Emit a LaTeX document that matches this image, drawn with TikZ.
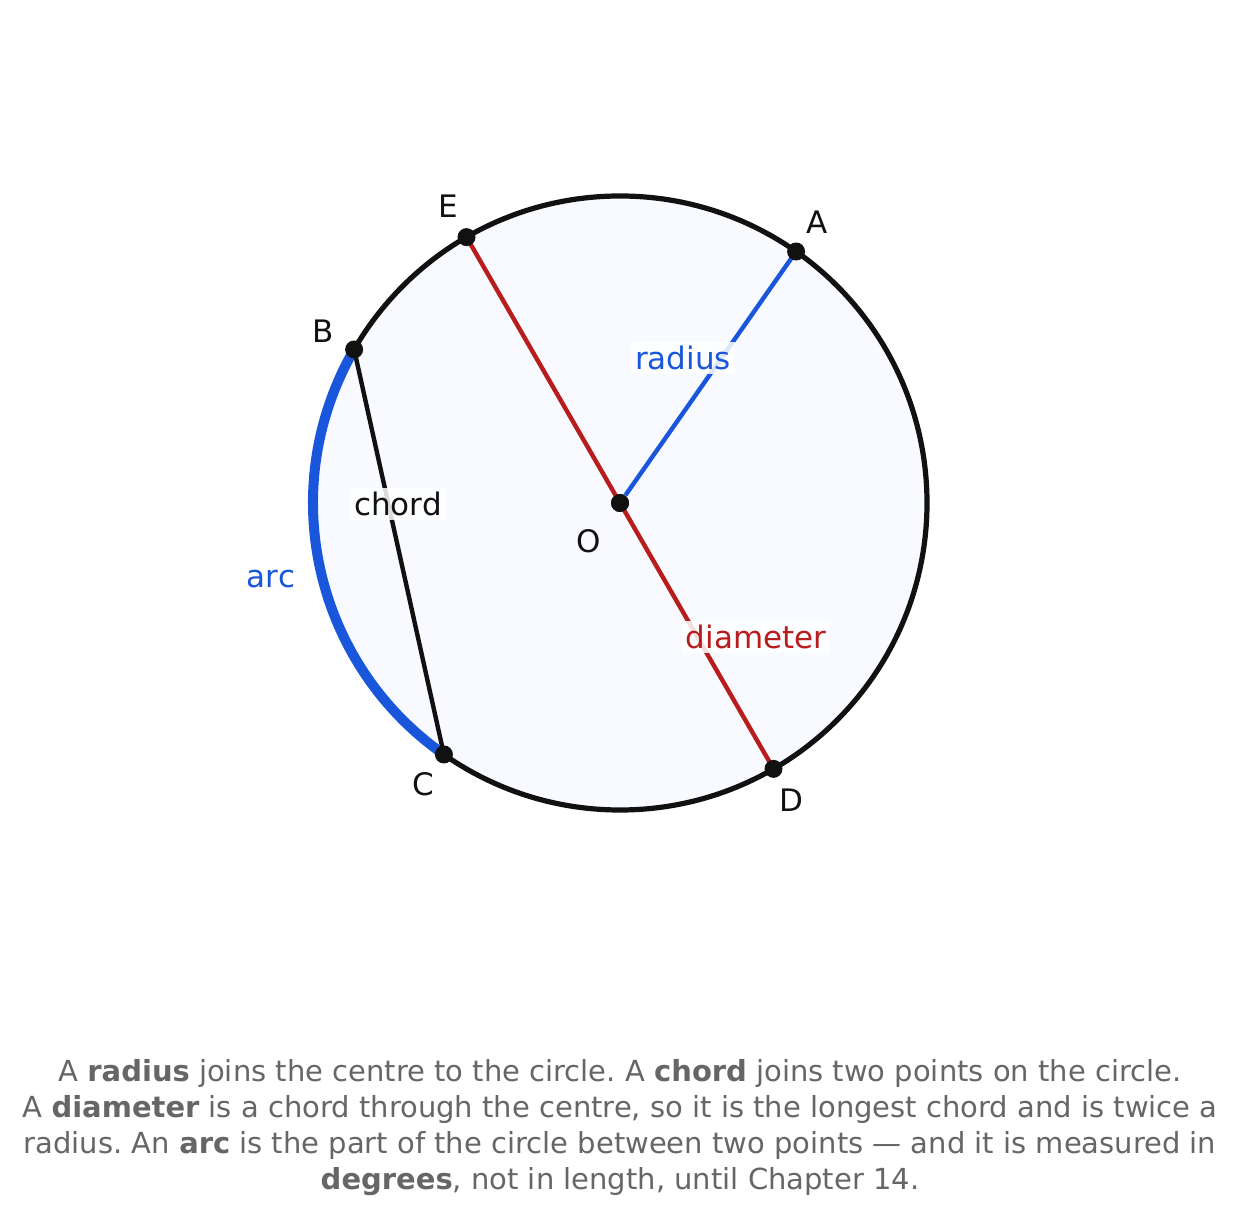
\documentclass[tikz,border=0pt]{standalone}
\usepackage{fontspec}
\setmainfont{DejaVu Sans}
\frenchspacing
\definecolor{arcblue}{HTML}{1A56DB}
\definecolor{diamred}{HTML}{B91C1C}
\definecolor{inkblack}{HTML}{111111}
\definecolor{discfill}{HTML}{F8FAFF}
\definecolor{captiongray}{HTML}{666666}
\tikzset{
  dot/.style={circle,fill=inkblack,inner sep=0pt,minimum size=9pt},
  ptlabel/.style={text=inkblack,font=\fontsize{15.5}{18}\selectfont},
  linelabel/.style={fill=white,fill opacity=0.85,text opacity=1,inner sep=2pt,font=\fontsize{15.5}{18}\selectfont}
}
\begin{document}
\begin{tikzpicture}[x=0.5pt,y=0.5pt]
\useasboundingbox (0,0) rectangle (1241,1220);
\begin{scope}[shift={(620,717)}]
\fill[discfill] (0,0) circle[radius=307];
\draw[inkblack,line width=2.6pt] (0,0) circle[radius=307];
\draw[arcblue,line width=5pt] (150:307) arc[start angle=150,end angle=235,radius=307];
\path (0,0) node[dot] (O) {};
\foreach \n/\a in {A/55,B/150,C/235,D/-60,E/120}
  \path (\a:307) coordinate (\n);
\draw[inkblack,line width=2.2pt] (B) -- (C);
\draw[diamred,line width=2.2pt] (E) -- (D);
\draw[arcblue,line width=2.2pt] (O) -- (A);
\foreach \n/\a in {A/55,B/150,C/235,D/-60,E/120} {
  \path (\n) node[dot] {};
  \path (\a:343) node[ptlabel] (l\n) {\n};
}
\path (O) node[dot] {};
\path (-31,-38) node[ptlabel] (lO) {O};
\path (63,145) node[linelabel,text=arcblue] (lradius) {radius};
\path (-222,-1) node[linelabel,text=inkblack] (lchord) {chord};
\path (136,-134) node[linelabel,text=diamred] (ldiameter) {diameter};
\path (-349,-76) node[text=arcblue,font=\fontsize{15.5}{18}\selectfont] (larc) {arc};
\end{scope}
\node[text=captiongray,align=center,font=\fontsize{14.5}{18}\selectfont] (caption) at (620,92)
{A \textbf{radius} joins the centre to the circle. A \textbf{chord} joins two points on the circle.\\
A \textbf{diameter} is a chord through the centre, so it is the longest chord and is twice a\\
radius. An \textbf{arc} is the part of the circle between two points — and it is measured in\\
\textbf{degrees}, not in length, until Chapter 14.};
\end{tikzpicture}
\end{document}
